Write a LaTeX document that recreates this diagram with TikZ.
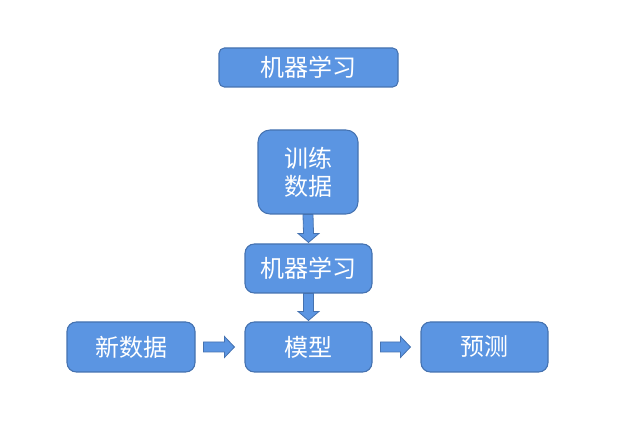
\documentclass[tikz,border=0pt]{standalone}
\usepackage{fontspec}
\setmainfont{Noto Sans CJK SC}
\usetikzlibrary{calc}
\definecolor{boxfill}{RGB}{91,149,226}
\definecolor{boxline}{RGB}{69,114,176}
\tikzset{
  box/.style={draw=boxline, fill=boxfill, line width=0.8pt, text=white, font=\fontsize{18}{21}\selectfont, align=center, inner sep=0pt},
  blockarrow/.style={draw=boxline, fill=boxfill, line width=0.6pt, line join=miter}
}
\begin{document}
\begin{tikzpicture}[x=0.75pt, y=-0.75pt]
\useasboundingbox (0,0) rectangle (631,448);
\node[box, rounded corners=4pt, minimum width=179*0.75pt, minimum height=39*0.75pt] (ml0) at (308.5,67.5) {机器学习};
\node[box, rounded corners=9pt, minimum width=100*0.75pt, minimum height=84*0.75pt] (train) at (308,172) {训练\\数据};
\node[box, rounded corners=7pt, minimum width=127*0.75pt, minimum height=49*0.75pt] (ml) at (308.5,268.5) {机器学习};
\node[box, rounded corners=7pt, minimum width=127*0.75pt, minimum height=50*0.75pt] (model) at (308.5,347) {模型};
\node[box, rounded corners=7pt, minimum width=128*0.75pt, minimum height=50*0.75pt] (new) at (131,347) {新数据};
\node[box, rounded corners=7pt, minimum width=127*0.75pt, minimum height=50*0.75pt] (pred) at (484.5,347) {预测};
% vertical block arrows
\foreach \a/\b in {train/ml, ml/model}{
  \draw[blockarrow] ($(\a.south)+(-5,0)$) -- ($(\a.south)+(5,0)$) -- ($(\b.north)+(5,-10)$) -- ($(\b.north)+(10.5,-10)$) -- ($(\b.north)+(0,-1)$) -- ($(\b.north)+(-10.5,-10)$) -- ($(\b.north)+(-5,-10)$) -- cycle;
}
% horizontal block arrows
\foreach \a/\b in {new/model, model/pred}{
  \draw[blockarrow] ($(\a.east)+(8,-5)$) -- ($(\b.west)+(-20,-5)$) -- ($(\b.west)+(-20,-10.5)$) -- ($(\b.west)+(-10,0)$) -- ($(\b.west)+(-20,10.5)$) -- ($(\b.west)+(-20,5)$) -- ($(\a.east)+(8,5)$) -- cycle;
}
\end{tikzpicture}
\end{document}
